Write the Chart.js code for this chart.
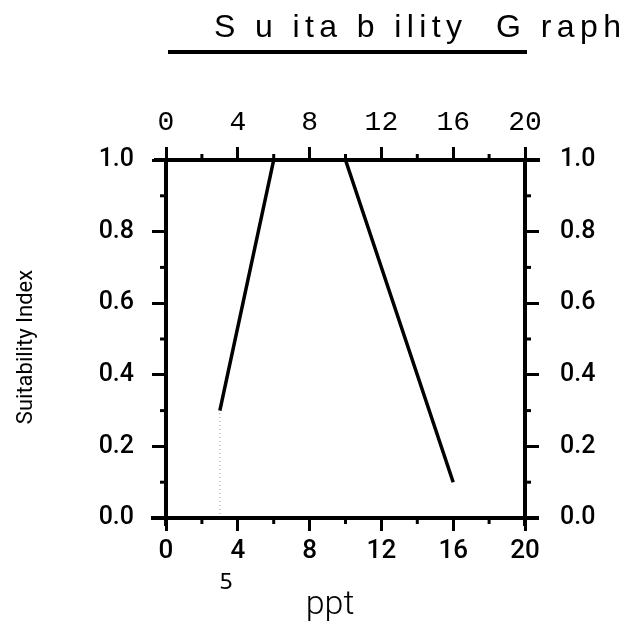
<!DOCTYPE html>
<html>
<head>
<meta charset="utf-8">
<script src="https://cdn.jsdelivr.net/npm/chart.js@4"></script>
<style>
  html, body { margin:0; padding:0; background:#fff; }
  #wrap { width:629px; height:641px; position:relative; }
</style>
</head>
<body>
<div id="wrap"><canvas id="c" width="629" height="641"></canvas></div>
<script>
// ---- data ----
const curveX = [3, 6, 10, 16];
const curveY = [0.3, 1.0, 1.0, 0.1];
const refX = [3, 3];
const refY = [0, 0.3];
const xTicks = [0, 4, 8, 12, 16, 20];
const xMinor = [2, 6, 10, 14, 18];
const yTicks = [0, 0.2, 0.4, 0.6, 0.8, 1.0];
const yMinor = [0.1, 0.3, 0.5, 0.7, 0.9];
const titleText = "S u ita b ility  G raph";
const yTitle = "Suitability Index";
const xTitle = "ppt";
const xNote = "ƽ";

const COND = "Roboto, 'Liberation Sans', sans-serif";
const MONO = "'Liberation Mono', 'DejaVu Sans Mono', monospace";
const SANS = "'Liberation Sans', Arial, sans-serif";

const decor = {
  id: 'decor',
  afterDraw(chart) {
    const ctx = chart.ctx;
    const { left, right, top, bottom } = chart.chartArea;
    const xs = chart.scales.x, ys = chart.scales.y;
    const ln = (x1, y1, x2, y2) => { ctx.beginPath(); ctx.moveTo(x1, y1); ctx.lineTo(x2, y2); ctx.stroke(); };
    ctx.save();
    ctx.strokeStyle = '#000';
    ctx.lineCap = 'butt';
    // frame
    ctx.lineWidth = 4;
    ln(left - 12, top, right + 15, top);
    ln(left - 15, bottom, right + 14, bottom);
    ln(left, top - 2, left, bottom + 8);
    ln(right, top - 2, right, bottom + 8);
    // minor ticks
    ctx.lineWidth = 3;
    for (const v of xMinor) {
      const px = xs.getPixelForValue(v);
      ln(px, top, px, top - 6);
      ln(px, bottom, px, bottom + 6);
    }
    for (const v of yMinor) {
      const py = ys.getPixelForValue(v);
      ln(left, py, left - 6, py);
      ln(right, py, right + 6, py);
    }
    // title
    ctx.fillStyle = '#000';
    ctx.font = "32px " + SANS;
    ctx.textAlign = 'left';
    ctx.textBaseline = 'alphabetic';
    const natural = ctx.measureText(titleText).width;
    const n = [...titleText].length;
    ctx.letterSpacing = ((407 - natural) / (n - 1)).toFixed(2) + 'px';
    ctx.fillText(titleText, 214, 37);
    ctx.letterSpacing = '0px';
    ctx.lineWidth = 4;
    ln(168, 52, 527, 52);
    // y title
    ctx.save();
    ctx.translate(26, 347);
    ctx.rotate(-Math.PI / 2);
    ctx.font = "22px " + COND;
    ctx.textAlign = 'center';
    ctx.textBaseline = 'middle';
    ctx.fillText(yTitle, 0, 0);
    ctx.restore();
    // x title
    ctx.font = "300 34px " + COND;
    ctx.textAlign = 'center';
    ctx.textBaseline = 'alphabetic';
    ctx.fillText(xTitle, 330, 614);
    ctx.font = "22px 'DejaVu Sans', sans-serif";
    ctx.fillText(xNote, 226, 585);
    ctx.restore();
  }
};

const commonX = (pos) => ({
  type: 'linear',
  position: pos,
  min: 0, max: 20,
  afterBuildTicks: (s) => { s.ticks = xTicks.map(v => ({ value: v })); },
  grid: { display: true, drawOnChartArea: false, drawTicks: true, tickLength: 13, lineWidth: 3, color: '#000' },
  border: { display: false },
});

new Chart(document.getElementById('c'), {
  type: 'line',
  data: {
    datasets: [
      {
        data: curveX.map((x, i) => ({ x, y: curveY[i] })),
        borderColor: '#000', borderWidth: 3.5, pointRadius: 0, tension: 0, fill: false,
        xAxisID: 'x', yAxisID: 'y',
      },
      {
        data: refX.map((x, i) => ({ x, y: refY[i] })),
        borderColor: '#9a9a9a', borderWidth: 1, borderDash: [1, 3], pointRadius: 0, fill: false,
        xAxisID: 'x', yAxisID: 'y',
      },
    ]
  },
  options: {
    responsive: false,
    animation: false,
    layout: { padding: 0 },
    plugins: { legend: { display: false }, title: { display: false }, tooltip: { enabled: false } },
    scales: {
      x: Object.assign(commonX('bottom'), {
        afterFit: (s) => { s.height = 123; },
        ticks: { autoSkip: false, maxRotation: 0, padding: 5, color: '#000',
                 font: { family: COND, size: 26, weight: '500' } },
      }),
      x2: Object.assign(commonX('top'), {
        afterFit: (s) => { s.height = 160; },
        ticks: { autoSkip: false, maxRotation: 0, padding: 8, color: '#000',
                 font: { family: MONO, size: 28, weight: 'normal' } },
      }),
      y: {
        type: 'linear', position: 'left', min: 0, max: 1,
        afterBuildTicks: (s) => { s.ticks = yTicks.map(v => ({ value: v })); },
        afterFit: (s) => { s.width = 166; },
        grid: { display: true, drawOnChartArea: false, drawTicks: true, tickLength: 14, lineWidth: 3, color: '#000' },
        border: { display: false },
        ticks: { padding: 18, color: '#000', callback: (v) => Number(v).toFixed(1),
                 font: { family: COND, size: 25, weight: '500' } },
      },
      y2: {
        type: 'linear', position: 'right', min: 0, max: 1,
        afterBuildTicks: (s) => { s.ticks = yTicks.map(v => ({ value: v })); },
        afterFit: (s) => { s.width = 104; },
        grid: { display: true, drawOnChartArea: false, drawTicks: true, tickLength: 14, lineWidth: 3, color: '#000' },
        border: { display: false },
        ticks: { padding: 21, color: '#000', callback: (v) => Number(v).toFixed(1),
                 font: { family: COND, size: 25, weight: '500' } },
      },
    }
  },
  plugins: [decor]
});
</script>
</body>
</html>
